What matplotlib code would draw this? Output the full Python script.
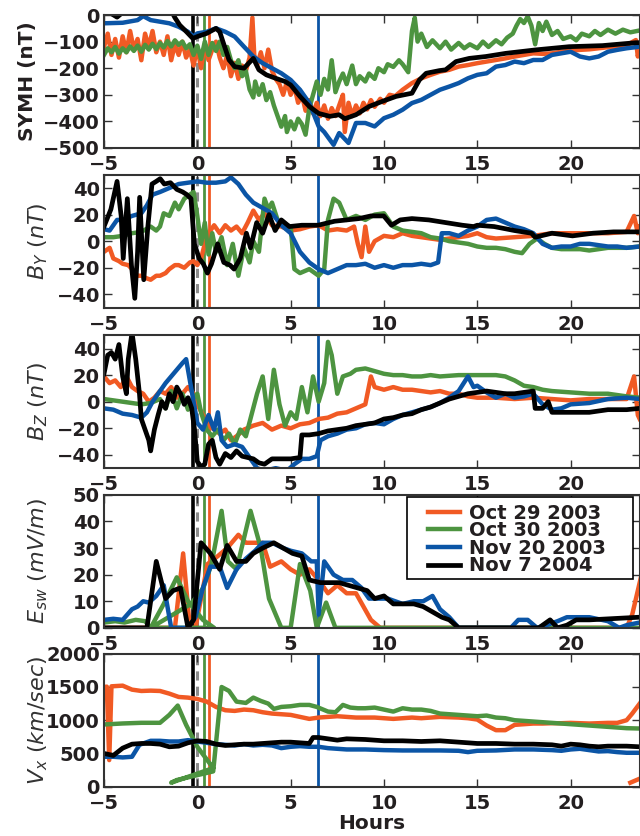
import matplotlib
matplotlib.use("Agg")
import matplotlib.pyplot as plt
from matplotlib.patches import Rectangle

# ---- data (hours from shock, value) ----
events = ["Oct 29 2003", "Oct 30 2003", "Nov 20 2003", "Nov 7 2004"]
colors = ["#f15a24", "#4d9440", "#0b55a6", "#000000"]
arrivals = [0.6, 0.36, 6.45, -0.22]

symh_oct29 = [(-5.0, -120), (-4.8, -70), (-4.6, -150), (-4.4, -90), (-4.2, -160), (-4.0, -80),
              (-3.8, -140), (-3.6, -60), (-3.4, -130), (-3.2, -90), (-3.0, -170), (-2.8, -70),
              (-2.6, -120), (-2.4, -60), (-2.2, -140), (-2.0, -100), (-1.8, -150), (-1.6, -80),
              (-1.4, -170), (-1.2, -110), (-1.0, -150), (-0.8, -100), (-0.6, -160), (-0.4, -130),
              (-0.2, -190), (0.0, -120), (0.2, -200), (0.4, -110), (0.6, -170), (0.8, -130),
              (1.0, -100), (1.2, -160), (1.4, -200), (1.6, -150), (1.8, -230), (2.0, -180),
              (2.2, -240), (2.4, -190), (2.6, -210), (2.8, -160), (2.95, -10), (3.05, -150),
              (3.2, -190), (3.4, -140), (3.6, -200), (3.8, -130), (4.0, -210), (4.2, -240),
              (4.4, -260), (4.6, -300), (4.8, -250), (5.0, -300), (5.2, -270), (5.4, -330),
              (5.6, -300), (5.8, -360), (6.0, -320), (6.2, -370), (6.4, -330), (6.6, -380),
              (6.8, -340), (7.0, -390), (7.2, -350), (7.4, -380), (7.6, -340), (7.8, -300),
              (7.9, -440), (8.1, -330), (8.3, -380), (8.5, -340), (8.7, -370), (8.9, -330),
              (9.1, -355), (9.3, -320), (9.5, -345), (9.8, -315), (10.0, -330), (10.3, -300),
              (10.6, -305), (11.0, -281), (11.5, -256), (12.0, -238), (12.5, -225), (13.0, -213),
              (13.5, -206), (14.0, -194), (14.5, -188), (15.0, -181), (15.5, -175), (16.0, -169),
              (16.5, -163), (17.0, -156), (17.5, -150), (18.0, -144), (18.5, -146), (19.0, -144),
              (19.5, -138), (20.0, -134), (20.5, -131), (21.0, -129), (21.5, -125), (22.0, -121),
              (22.5, -119), (23.0, -113), (23.5, -94), (23.6, -156), (23.7, -119)]
symh_oct30 = [(-5.0, -150), (-4.8, -125), (-4.6, -140), (-4.4, -120), (-4.2, -145), (-4.0, -125),
              (-3.8, -140), (-3.6, -118), (-3.4, -135), (-3.2, -115), (-3.0, -138), (-2.8, -112),
              (-2.6, -130), (-2.4, -108), (-2.2, -128), (-2.0, -105), (-1.8, -122), (-1.6, -98),
              (-1.4, -118), (-1.2, -95), (-1.0, -112), (-0.8, -100), (-0.6, -125), (-0.4, -110),
              (-0.2, -150), (0.0, -115), (0.2, -165), (0.4, -100), (0.6, -150), (0.8, -105),
              (1.0, -135), (1.2, -100), (1.4, -150), (1.6, -120), (1.8, -170), (2.0, -200),
              (2.2, -170), (2.4, -230), (2.6, -210), (2.8, -280), (3.0, -310), (3.1, -250),
              (3.3, -300), (3.5, -260), (3.7, -320), (3.9, -290), (4.1, -340), (4.3, -380),
              (4.5, -420), (4.7, -380), (4.8, -440), (5.0, -400), (5.2, -430), (5.4, -390),
              (5.6, -410), (5.8, -450), (6.0, -350), (6.2, -300), (6.4, -250), (6.6, -300),
              (6.8, -240), (7.0, -280), (7.2, -170), (7.4, -290), (7.6, -250), (7.8, -220),
              (8.0, -260), (8.3, -190), (8.5, -260), (8.7, -230), (9.0, -250), (9.2, -220),
              (9.5, -240), (9.7, -200), (10.0, -215), (10.2, -185), (10.5, -195), (10.8, -170),
              (11.0, -185), (11.3, -215), (11.5, -60), (11.65, -10), (11.8, -100), (12.0, -70),
              (12.3, -120), (12.6, -95), (13.0, -125), (13.3, -100), (13.6, -130), (14.0, -105),
              (14.3, -125), (14.6, -110), (15.0, -125), (15.3, -100), (15.6, -120), (16.0, -95),
              (16.3, -110), (16.6, -85), (16.9, -70), (17.1, -40), (17.3, -15), (17.5, -30),
              (17.7, -5), (17.9, -40), (18.1, -110), (18.3, -30), (18.5, -60), (18.7, -25),
              (19.0, -75), (19.3, -60), (19.6, -90), (20.0, -80), (20.3, -95), (20.6, -70),
              (21.0, -80), (21.3, -60), (21.6, -75), (22.0, -55), (22.4, -70), (22.8, -55),
              (23.2, -65), (23.7, -58)]
symh_nov20 = [(-5.0, -31), (-4.0, -29), (-3.2, -19), (-2.9, -4), (-2.5, -19), (-2.0, -25),
              (-1.5, -31), (-1.0, -44), (-0.5, -63), (-0.2, -81), (0.0, -69), (0.5, -63),
              (1.0, -50), (1.5, -63), (2.0, -81), (2.5, -119), (3.0, -156), (3.5, -181),
              (4.0, -200), (4.5, -219), (5.0, -244), (5.5, -281), (6.0, -331), (6.5, -419),
              (6.8, -440), (7.1, -469), (7.3, -488), (7.6, -444), (8.1, -481), (8.5, -406),
              (9.0, -406), (9.5, -419), (10.0, -388), (10.5, -375), (11.0, -356), (11.5, -331),
              (12.0, -319), (12.5, -300), (13.0, -281), (13.5, -269), (14.0, -256), (14.5, -238),
              (15.0, -225), (15.5, -219), (16.0, -194), (16.5, -188), (17.0, -175), (17.5, -181),
              (18.0, -169), (18.5, -169), (19.0, -150), (19.5, -144), (20.0, -138), (20.5, -156),
              (21.0, -163), (21.5, -156), (22.0, -138), (22.5, -131), (23.0, -125), (23.7, -119)]
symh_nov7 = [(-5.0, 20), (-4.6, 5), (-4.3, -8), (-4.0, 10), (-3.0, 40), (-1.5, 30), (-1.2, -10),
             (-0.94, -38), (-0.58, -63), (-0.24, -88), (0.0, -81), (0.5, -69), (1.0, -50),
             (1.2, -63), (1.4, -106), (1.7, -169), (2.0, -194), (2.5, -200), (3.0, -163),
             (3.3, -206), (3.7, -225), (4.2, -238), (4.7, -250), (5.0, -263), (5.5, -306),
             (6.0, -344), (6.5, -370), (7.1, -381), (7.6, -375), (7.9, -390), (8.5, -375),
             (9.2, -344), (9.9, -325), (10.65, -306), (11.5, -294), (11.9, -244), (12.26, -219),
             (12.97, -209), (13.3, -206), (13.86, -175), (14.57, -163), (15.46, -156),
             (16.53, -144), (18.14, -131), (19.92, -119), (21.7, -115), (23.5, -104), (23.7, -104)]

by_oct29 = [(-5.0, -8), (-4.7, -5), (-4.5, -13), (-4.2, -15), (-4.0, -17), (-3.7, -18), (-3.5, -21),
            (-3.2, -26), (-3.0, -26), (-2.7, -28), (-2.5, -29), (-2.2, -26), (-2.0, -26), (-1.7, -24),
            (-1.5, -21), (-1.2, -18), (-1.0, -18), (-0.7, -20), (-0.4, -16), (-0.2, -15), (0.0, -18),
            (0.2, -13), (0.4, -2), (0.6, 6), (0.9, 12), (1.2, 6), (1.5, 12), (1.8, 8), (2.1, 11),
            (2.4, 6), (2.7, 14), (3.0, 23), (3.3, 16), (3.6, 21), (4.0, 12), (4.5, 11), (5.0, 8),
            (5.5, 9), (6.0, 11), (6.5, 12), (7.0, 8), (7.5, 9), (8.0, 8), (8.4, 11), (8.6, -2),
            (8.8, -12), (9.0, 11), (9.2, -8), (9.5, 0), (10.0, 4), (10.5, 3), (11.0, 6), (11.5, 4),
            (12.0, 3), (12.5, 2), (13.0, 1), (13.5, 2), (14.0, 3), (14.5, 4), (15.0, 6), (15.5, 3),
            (16.0, 2), (17.0, 3), (18.0, 4), (19.0, 6), (20.0, 6), (21.0, 6), (22.0, 6), (23.0, 7),
            (23.4, 19), (23.6, 6), (23.7, 11)]
by_oct30 = [(-5.0, 3), (-4.5, 3), (-4.0, 4), (-3.5, 6), (-3.0, 7), (-2.5, 11), (-2.2, 8), (-2.0, 11),
            (-1.8, 21), (-1.5, 19), (-1.2, 29), (-1.0, 24), (-0.7, 32), (-0.4, 35), (-0.2, 37),
            (0.0, 19), (0.2, -2), (0.4, 14), (0.6, -10), (0.8, 6), (1.0, -8), (1.3, 3), (1.6, -18),
            (1.9, -2), (2.2, -26), (2.5, -5), (2.8, -16), (3.0, 0), (3.3, -8), (3.6, 32), (3.8, 24),
            (4.0, 29), (4.3, 16), (4.5, 14), (4.8, 12), (5.0, 11), (5.2, -21), (5.5, -24), (6.0, -21),
            (6.5, -26), (6.8, -21), (7.0, 16), (7.3, 32), (7.6, 29), (8.0, 16), (8.5, 19), (9.0, 16),
            (9.5, 20), (10.0, 21), (10.5, 11), (11.0, 8), (11.5, 7), (12.0, 6), (12.5, 3), (13.0, 2),
            (13.5, 0), (14.0, -1), (14.5, -2), (15.0, -4), (15.5, -5), (16.0, -5), (16.5, -6),
            (17.0, -8), (17.4, -9), (17.8, -2), (18.2, 2), (18.6, -2), (19.0, -5), (19.5, -6),
            (20.0, -6), (20.5, -6), (21.0, -7), (21.5, -6), (22.0, -5), (22.5, -5), (23.0, -5),
            (23.7, -4)]
by_nov20 = [(-5.0, 9), (-4.7, 8), (-4.5, 12), (-4.3, 16), (-4.0, 16), (-3.5, 19), (-3.0, 21),
            (-2.7, 27), (-2.4, 35), (-2.0, 37), (-1.5, 40), (-1.0, 43), (-0.5, 44), (0.0, 45),
            (0.5, 44), (1.0, 44), (1.5, 45), (1.8, 48), (2.2, 43), (2.6, 35), (3.0, 29), (3.5, 25),
            (4.0, 21), (4.5, 12), (5.0, 6), (5.5, -8), (6.0, -16), (6.5, -21), (7.0, -24), (7.5, -21),
            (8.0, -18), (8.5, -18), (9.0, -17), (9.5, -20), (10.0, -18), (10.5, -20), (11.0, -18),
            (11.5, -18), (12.0, -17), (12.5, -18), (12.9, -16), (13.1, 6), (13.5, 6), (14.0, 4),
            (14.5, 8), (15.0, 11), (15.5, 16), (16.0, 17), (16.5, 14), (17.0, 11), (17.5, 9),
            (18.0, 6), (18.5, -2), (19.0, -5), (19.5, -4), (20.0, -4), (20.5, -2), (21.0, -2),
            (21.5, -3), (22.0, -4), (22.5, -4), (23.0, -5), (23.7, -4)]
by_nov7 = [(-5.0, 11), (-4.63, 24), (-4.3, 45), (-4.08, 19), (-3.97, -13), (-3.75, 32), (-3.53, -18),
           (-3.35, -43), (-3.2, -8), (-3.09, 33), (-2.87, -29), (-2.65, 11), (-2.43, 43), (-2.2, 45),
           (-1.99, 47), (-1.77, 43), (-1.44, 44), (-1.1, 39), (-0.78, 37), (-0.56, 35), (-0.34, 32),
           (-0.16, -2), (0.1, -13), (0.32, -17), (0.54, -24), (0.76, -17), (1.09, -2), (1.42, -16),
           (1.75, -18), (1.97, -21), (2.3, -13), (2.63, 6), (2.85, -5), (3.18, 14), (3.5, 6),
           (3.84, 20), (4.17, 8), (4.5, 16), (4.93, 11), (5.6, 12), (6.47, 12), (7.35, 15),
           (8.0, 16), (8.66, 17), (9.3, 19), (9.99, 19), (10.4, 12), (10.87, 16), (11.5, 17),
           (12.4, 16), (13.3, 14), (14.2, 12), (14.8, 11), (15.0, 12), (15.9, 11), (17.0, 8),
           (17.9, 6), (18.1, 3), (19.0, 6), (20.1, 4), (21.2, 6), (22.3, 7), (23.7, 7)]

bz_oct29 = [(-5.0, 19), (-4.7, 14), (-4.4, 16), (-4.1, 11), (-3.8, 19), (-3.5, 11), (-3.2, 8),
            (-2.9, 6), (-2.6, 0), (-2.3, 3), (-2.0, 8), (-1.7, 6), (-1.4, 11), (-1.1, 3), (-0.8, 6),
            (-0.5, 11), (-0.2, 6), (0.0, -2), (0.3, -10), (0.6, -18), (0.9, -21), (1.2, -24),
            (1.5, -21), (1.8, -29), (2.1, -26), (2.5, -21), (3.0, -18), (3.5, -16), (4.0, -21),
            (4.5, -18), (5.0, -20), (5.5, -17), (6.0, -16), (6.5, -13), (7.0, -12), (7.5, -9),
            (8.0, -8), (8.5, -5), (9.0, -2), (9.3, 19), (9.5, 11), (10.0, 9), (10.5, 11), (11.0, 9),
            (11.5, 9), (12.0, 8), (12.5, 7), (13.0, 8), (13.5, 6), (14.0, 6), (14.5, 4), (15.0, 3),
            (16.0, 3), (17.0, 2), (18.0, 3), (19.0, 2), (20.0, 1), (21.0, 2), (22.0, 2), (23.0, 2),
            (23.4, 19), (23.6, -10), (23.7, -13)]
bz_oct30 = [(-5.0, 2), (-4.5, 1), (-4.0, 0), (-3.5, -1), (-3.0, -2), (-2.5, -1), (-2.0, 2), (-1.7, -5),
            (-1.4, 8), (-1.1, -5), (-0.8, 6), (-0.5, -6), (-0.2, 3), (0.0, 6), (0.2, -8), (0.5, -21),
            (0.8, -26), (1.1, -21), (1.4, -29), (1.7, -24), (2.0, -32), (2.3, -21), (2.6, -26),
            (2.9, -10), (3.2, 6), (3.5, 19), (3.8, -13), (4.1, 24), (4.4, -2), (4.7, -18), (5.0, -8),
            (5.3, -13), (5.6, 11), (5.9, -8), (6.2, 19), (6.5, 0), (6.8, 14), (7.0, 45), (7.2, 35),
            (7.5, 6), (7.8, 19), (8.2, 21), (8.5, 24), (9.0, 25), (9.5, 23), (10.0, 21), (10.5, 20),
            (11.0, 20), (11.5, 19), (12.0, 19), (12.5, 20), (13.0, 19), (14.0, 20), (15.0, 20),
            (16.0, 20), (16.5, 19), (17.0, 16), (17.5, 12), (18.0, 11), (18.5, 9), (19.0, 8),
            (20.0, 7), (21.0, 6), (22.0, 6), (23.0, 4), (23.7, 3)]
bz_nov20 = [(-5.0, -5), (-4.5, -6), (-4.0, -9), (-3.5, -10), (-3.0, -12), (-2.7, -8), (-2.4, 0),
            (-2.0, 8), (-1.7, 14), (-1.4, 19), (-1.1, 24), (-0.8, 29), (-0.6, 32), (-0.4, 16),
            (-0.2, 0), (0.0, -16), (0.3, -21), (0.6, -10), (0.9, -21), (1.1, -8), (1.3, -29),
            (1.6, -34), (2.0, -32), (2.4, -34), (2.8, -42), (3.2, -50), (3.6, -52), (4.2, -50),
            (4.8, -52), (5.2, -47), (5.6, -43), (6.0, -43), (6.4, -41), (6.6, -29), (7.0, -26),
            (7.5, -24), (8.0, -21), (8.5, -20), (9.0, -17), (9.5, -16), (10.0, -17), (10.5, -13),
            (11.0, -10), (11.5, -8), (12.0, -6), (12.5, -4), (13.0, -1), (13.5, 3), (14.0, 8),
            (14.5, 19), (14.8, 11), (15.0, 12), (15.5, 7), (16.0, 3), (16.5, 6), (17.0, 3),
            (17.5, 4), (18.0, 6), (18.5, -2), (19.0, -6), (19.5, -5), (20.0, -2), (21.0, -1),
            (22.0, 2), (23.0, 3), (23.7, 2)]
bz_nov7 = [(-5.0, 21), (-4.8, 35), (-4.6, 37), (-4.4, 32), (-4.2, 43), (-4.0, 19), (-3.8, 6),
           (-3.7, 32), (-3.5, 52), (-3.3, 32), (-3.1, 6), (-3.0, -13), (-2.8, -21), (-2.6, -29),
           (-2.5, -37), (-2.3, -21), (-2.1, -10), (-1.9, 0), (-1.7, -5), (-1.5, 6), (-1.3, 0),
           (-1.1, 11), (-0.9, 6), (-0.7, -2), (-0.5, 3), (-0.3, -5), (-0.15, -21), (0.0, -45),
           (0.2, -49), (0.4, -47), (0.6, -32), (0.8, -29), (1.0, -42), (1.2, -47), (1.5, -39),
           (1.8, -42), (2.1, -37), (2.4, -41), (2.7, -42), (3.0, -43), (3.3, -46), (3.6, -47),
           (4.0, -43), (4.5, -43), (5.0, -43), (5.5, -42), (5.6, -25), (6.0, -25), (6.5, -24),
           (7.0, -22), (7.5, -21), (8.0, -20), (8.5, -18), (9.0, -17), (9.5, -16), (10.0, -13),
           (10.5, -12), (11.0, -10), (11.5, -9), (12.0, -6), (12.5, -4), (13.0, -1), (13.5, 2),
           (14.0, 4), (14.5, 6), (15.0, 7), (15.5, 8), (16.0, 7), (16.5, 6), (17.0, 6), (17.5, 7),
           (18.0, 8), (18.1, -5), (18.5, -5), (18.8, 0), (19.0, -8), (19.5, -8), (20.0, -8),
           (21.0, -8), (22.0, -6), (23.0, -6), (23.7, -5)]

esw_oct29 = [(-5.0, 0), (-1.2, 0), (-0.76, 28), (-0.4, 0), (-0.1, 0), (0.55, 24), (1.1, 27), (1.6, 30),
             (2.2, 35), (2.6, 32), (3.1, 32), (3.5, 32), (3.9, 23), (4.5, 25), (5.0, 22), (5.5, 20),
             (6.0, 22), (6.5, 18), (7.0, 13), (7.5, 16), (8.0, 13), (8.5, 13), (8.9, 8), (9.3, 3),
             (9.8, 0), (23.0, 0), (23.3, 5), (23.8, 20)]
esw_oct30 = [(-5.0, 2), (-4.4, 2.5), (-3.9, 2), (-3.3, 3), (-2.8, 2.5), (-2.5, 0), (-1.8, 9),
             (-1.1, 19), (-0.5, 10), (0.3, 3), (0.9, 0), (-2.5, 0), (-0.34, 9), (0.32, 15),
             (0.76, 24), (1.3, 44), (1.64, 25), (2.1, 22), (2.85, 44), (3.4, 30), (3.84, 11),
             (4.5, 0), (5.0, 0), (5.5, 24), (6.05, 14), (6.4, 0), (6.9, 9.5), (7.4, 0), (23.7, 0)]
esw_nov20 = [(-5.0, 3), (-4.5, 3.4), (-4.0, 3), (-3.5, 7), (-3.2, 8), (-2.9, 10), (-2.6, 9.5),
             (-2.2, 12), (-1.8, 16), (-1.4, 0), (-0.9, 0), (-0.5, 0), (-0.1, 4), (0.3, 15),
             (0.7, 23), (1.2, 23), (1.6, 15), (2.1, 22), (2.6, 26), (3.1, 29), (3.5, 32), (4.0, 32),
             (4.6, 30), (5.0, 29), (5.6, 28), (6.1, 25), (6.4, 25), (6.5, 5), (6.8, 25), (7.3, 20),
             (7.8, 18), (8.3, 18), (8.8, 15), (9.2, 11), (9.7, 11), (10.2, 11), (10.6, 10),
             (11.0, 9), (11.6, 10), (12.1, 10), (12.6, 12), (13.0, 7), (13.5, 4), (14.0, 0),
             (16.8, 0), (17.2, 3), (17.7, 3), (18.2, 0), (18.7, 1), (19.3, 2.5), (19.8, 4),
             (20.2, 4), (21.0, 4), (22.0, 2.5), (22.6, 0), (23.0, 1), (23.7, 2)]
esw_nov7 = [(-5.0, 0), (-2.7, 0), (-2.2, 25), (-1.7, 11), (-1.3, 14), (-0.9, 15), (-0.5, 0), (-0.2, 3),
            (0.2, 32), (0.7, 28), (1.2, 22), (1.6, 31), (2.1, 25), (2.6, 25), (3.0, 28), (3.5, 30),
            (4.1, 32), (4.6, 30), (5.1, 28), (5.6, 27), (6.0, 18), (6.6, 17), (7.1, 17), (7.6, 17),
            (8.1, 16), (8.6, 15), (9.1, 14), (9.5, 11), (10.0, 12), (10.5, 9), (11.0, 9), (11.6, 9),
            (12.1, 8), (12.6, 6), (13.1, 4), (13.5, 3), (14.0, 0), (18.3, 0), (18.9, 3), (19.3, 0),
            (19.8, 1), (20.3, 3), (21.0, 3), (23.7, 4)]

vx_oct29 = [(-5.0, 1500), (-4.85, 1505), (-4.72, 400), (-4.6, 1510), (-4.0, 1520), (-3.5, 1460),
            (-3.0, 1440), (-2.5, 1445), (-2.0, 1440), (-1.5, 1400), (-1.0, 1350), (-0.5, 1340),
            (0.0, 1320), (0.5, 1280), (1.0, 1200), (1.5, 1150), (2.0, 1140), (2.5, 1160), (3.0, 1150),
            (3.5, 1120), (4.0, 1100), (4.5, 1090), (5.0, 1080), (5.5, 1050), (6.0, 1020), (6.5, 1040),
            (7.0, 1050), (7.5, 1060), (8.0, 1050), (8.5, 1040), (9.0, 1040), (9.5, 1040), (10.0, 1030),
            (10.5, 1020), (11.0, 1030), (11.5, 1040), (12.0, 1030), (12.5, 1040), (13.0, 1050),
            (13.5, 1045), (14.0, 1040), (14.5, 1030), (15.0, 1010), (15.5, 920), (16.0, 850),
            (16.5, 850), (17.0, 930), (17.5, 940), (18.0, 950), (18.5, 950), (19.0, 955), (19.5, 955),
            (20.0, 960), (20.5, 955), (21.0, 950), (21.5, 955), (22.0, 960), (22.5, 960), (23.0, 1000),
            (23.3, 1100), (23.7, 1250)]
vx_oct29_tail = [(23.2, 60), (23.7, 120)]
vx_oct30 = [(-5.0, 936), (-4.0, 951), (-3.0, 961), (-2.0, 961), (-1.5, 1080), (-1.05, 1220),
            (-0.6, 930), (0.0, 600), (0.85, 280), (-1.4, 60), (-1.1, 100), (0.85, 230), (1.3, 1500),
            (1.7, 1440), (2.1, 1280), (2.6, 1260), (3.0, 1340), (3.4, 1290), (3.8, 1250), (4.1, 1170),
            (4.5, 1200), (5.0, 1210), (5.5, 1230), (6.0, 1230), (6.4, 1200), (7.0, 1130), (7.4, 1120),
            (7.8, 1230), (8.2, 1190), (8.6, 1180), (9.0, 1180), (9.5, 1190), (10.0, 1160),
            (10.5, 1130), (11.0, 1180), (11.5, 1160), (12.0, 1160), (12.5, 1140), (13.0, 1100),
            (13.5, 1090), (14.0, 1080), (14.5, 1070), (15.0, 1060), (15.5, 1070), (16.0, 1040),
            (16.5, 1030), (17.0, 1000), (17.5, 990), (18.0, 980), (18.5, 970), (19.0, 960),
            (19.5, 950), (20.0, 940), (20.5, 930), (21.0, 920), (21.5, 910), (22.0, 900),
            (22.5, 890), (23.0, 880), (23.7, 875)]
vx_nov20 = [(-5.0, 450), (-4.5, 450), (-4.0, 440), (-3.5, 450), (-3.1, 630), (-2.5, 690), (-2.0, 690),
            (-1.5, 680), (-1.0, 680), (-0.5, 700), (0.0, 680), (0.5, 660), (1.0, 640), (1.5, 630),
            (2.0, 620), (2.5, 640), (3.0, 620), (3.5, 630), (4.0, 620), (4.5, 580), (5.0, 600),
            (5.5, 610), (6.0, 600), (6.5, 600), (7.0, 580), (7.5, 570), (8.0, 560), (9.0, 560),
            (10.0, 550), (11.0, 545), (12.0, 545), (13.0, 545), (14.0, 540), (14.5, 520), (15.0, 540),
            (16.0, 545), (17.0, 560), (18.0, 560), (19.0, 550), (19.5, 540), (20.0, 560), (20.5, 570),
            (21.0, 550), (21.5, 530), (22.0, 535), (22.5, 520), (23.0, 510), (23.7, 510)]
vx_nov7 = [(-5.0, 500), (-4.5, 470), (-4.0, 580), (-3.5, 640), (-3.0, 650), (-2.5, 650), (-2.0, 640),
           (-1.5, 600), (-1.0, 610), (-0.5, 660), (0.0, 690), (0.5, 680), (1.0, 640), (1.5, 620),
           (2.0, 630), (2.5, 640), (3.0, 640), (3.5, 650), (4.0, 660), (4.5, 670), (5.0, 670),
           (5.5, 660), (6.0, 650), (6.2, 740), (6.5, 740), (7.0, 720), (7.5, 700), (8.0, 720),
           (9.0, 710), (10.0, 690), (11.0, 690), (12.0, 680), (13.0, 690), (14.0, 670), (15.0, 650),
           (16.0, 650), (17.0, 640), (18.0, 640), (19.0, 630), (19.5, 610), (20.0, 640), (20.5, 630),
           (21.0, 610), (21.5, 600), (22.0, 610), (23.0, 610), (23.7, 600)]

panels = [
    ([symh_oct29, symh_oct30, symh_nov20, symh_nov7], "SYMH (nT)", (-500, 0), range(-500, 1, 100)),
    ([by_oct29, by_oct30, by_nov20, by_nov7], r"$B_Y\ (nT)$", (-50, 50), range(-40, 41, 20)),
    ([bz_oct29, bz_oct30, bz_nov20, bz_nov7], r"$B_Z\ (nT)$", (-50, 50), range(-40, 41, 20)),
    ([esw_oct29, esw_oct30, esw_nov20, esw_nov7], r"$E_{sw}\ (mV/m)$", (0, 50), range(0, 51, 10)),
    ([vx_oct29, vx_oct30, vx_nov20, vx_nov7], r"$V_x\ (km/sec)$", (0, 2000), range(0, 2001, 500)),
]

TXT = "#231f20"
plt.rcParams.update({
    "font.family": "DejaVu Sans",
    "axes.linewidth": 1.5,
    "axes.edgecolor": "#333333",
    "xtick.direction": "in", "ytick.direction": "in",
    "xtick.top": True, "ytick.right": True,
    "xtick.major.size": 6, "ytick.major.size": 6,
    "xtick.major.width": 1, "ytick.major.width": 1,
    "xtick.color": "#333333", "ytick.color": "#333333",
    "xtick.labelcolor": TXT, "ytick.labelcolor": TXT,
    "xtick.labelsize": 14, "ytick.labelsize": 14,
    "mathtext.default": "it",
})

fig = plt.figure(figsize=(6.4, 8.36), dpi=100)
left, width, height = 0.1625, 0.837, 0.159
bottoms = [0.823, 0.632, 0.440, 0.249, 0.059]

for k, (series, ylabel, ylim, yticks) in enumerate(panels):
    ax = fig.add_axes([left, bottoms[k], width, height])
    # shock arrival of each storm, plus the t=0 reference
    for t0, col in zip(arrivals, colors):
        ax.axvline(t0, color=col, lw=2.6 if col == "#000000" else 2, zorder=1)
    ax.axvline(0.0, color="#8c8c8c", lw=2.2, ls=(0, (3, 2)), zorder=1)
    for s, col, name in zip(series, colors, events):
        ax.plot([p[0] for p in s], [p[1] for p in s], color=col,
                lw=3.4 if col == "#000000" else 3.2, label=name, zorder=2)
    if k == 4:
        ax.plot([p[0] for p in vx_oct29_tail], [p[1] for p in vx_oct29_tail],
                color=colors[0], lw=3.2, zorder=2)
    ax.set_xlim(-5, 23.7)
    ax.set_ylim(*ylim)
    ax.set_yticks(list(yticks))
    ax.set_xticks([-5, 0, 5, 10, 15, 20])
    ax.tick_params(axis="y", pad=3)
    ax.tick_params(axis="x", pad=5)
    for lab in ax.get_xticklabels() + ax.get_yticklabels():
        lab.set_fontweight("bold")
    if k == 0:
        ax.set_ylabel(ylabel, fontsize=14.5, fontweight="bold", color=TXT)
        ax.yaxis.set_label_coords(-0.125, 0.5)
    else:
        ax.set_ylabel(ylabel, fontsize=16, color="#333333")
        ax.yaxis.set_label_coords(-0.1, 0.5)
    if k == 3:
        ax.add_patch(Rectangle((0.566, 0.368), 0.4215, 0.617, transform=ax.transAxes,
                               facecolor="white", edgecolor="black", lw=1.2, zorder=4))
        leg = ax.legend(loc="upper left", bbox_to_anchor=(0.605, 0.935), fontsize=14,
                        frameon=False, borderpad=0, borderaxespad=0, labelspacing=-0.07,
                        handlelength=1.65, handletextpad=0.45)
        leg.set_zorder(5)
        for t in leg.get_texts():
            t.set_fontweight("bold")
            t.set_color(TXT)
    if k == 4:
        ax.set_xlabel("Hours", fontsize=14.5, fontweight="bold", color=TXT, labelpad=1)

fig.savefig("out.png", dpi=100, facecolor="white")
